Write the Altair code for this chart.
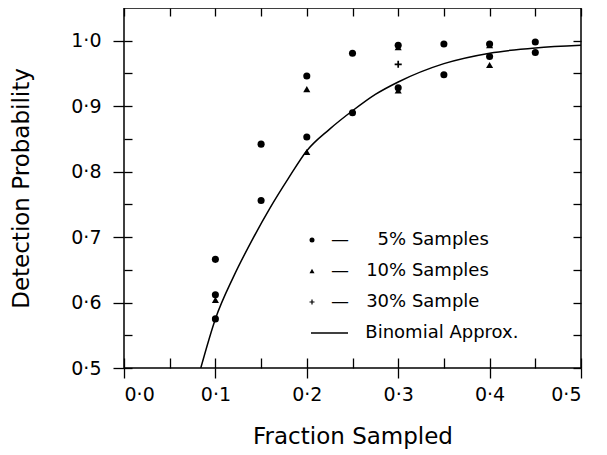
import altair as alt
import pandas as pd

# 5% samples (dots)
frac_5 = [0.10, 0.10, 0.10, 0.15, 0.15, 0.20, 0.20, 0.25, 0.25, 0.30, 0.30,
          0.35, 0.35, 0.40, 0.40, 0.45, 0.45]
det_5 = [0.666, 0.612, 0.575, 0.842, 0.756, 0.946, 0.853, 0.981, 0.890, 0.993,
         0.928, 0.995, 0.948, 0.995, 0.976, 0.998, 0.982]
# 10% samples (triangles)
frac_10 = [0.10, 0.20, 0.20, 0.30, 0.30, 0.40, 0.40]
det_10 = [0.604, 0.926, 0.830, 0.990, 0.924, 0.993, 0.963]
# 30% sample (plus)
frac_30 = [0.30]
det_30 = [0.964]
# Binomial approximation curve
curve_x = [0.084, 0.10, 0.12, 0.14, 0.16, 0.18, 0.20, 0.225, 0.25, 0.275,
           0.30, 0.35, 0.40, 0.45, 0.50]
curve_y = [0.500, 0.575, 0.640, 0.695, 0.745, 0.790, 0.832, 0.865, 0.893,
           0.918, 0.937, 0.965, 0.981, 0.989, 0.993]

series = ["5% Samples", "10% Samples", "30% Sample", "Binomial Approx."]
x_major = [0.0, 0.1, 0.2, 0.3, 0.4, 0.5]
x_all = [0.0, 0.05, 0.1, 0.15, 0.2, 0.25, 0.3, 0.35, 0.4, 0.45, 0.5]
y_major = [0.5, 0.6, 0.7, 0.8, 0.9, 1.0]
y_all = [0.5, 0.55, 0.6, 0.65, 0.7, 0.75, 0.8, 0.85, 0.9, 0.95, 1.0]

pts = pd.DataFrame({
    "frac": frac_5 + frac_10 + frac_30,
    "det": det_5 + det_10 + det_30,
    "series": [series[0]] * len(frac_5) + [series[1]] * len(frac_10) + [series[2]] * len(frac_30),
})
curve = pd.DataFrame({"frac": curve_x, "det": curve_y})

FONT = "DejaVu Sans"
xs = alt.Scale(domain=[0, 0.5], nice=False, zero=False)
ys = alt.Scale(domain=[0.5, 1.05], nice=False, zero=False)
dot_label = "replace(datum.label, '.', '·')"

# main axes: outward ticks + labels + titles
x_main = alt.Axis(orient="bottom", values=x_major, tickSize=10, labelPadding=7,
                  format=".1f", labelExpr=dot_label, title="Fraction Sampled",
                  titlePadding=21, domain=False, grid=False)
y_main = alt.Axis(orient="left", values=y_major, tickSize=11, labelPadding=12,
                  format=".1f", labelExpr=dot_label, title="Detection Probability",
                  titlePadding=37, domain=False, grid=False)

line = alt.Chart(curve).mark_line(color="black", strokeWidth=1.5, interpolate="monotone", clip=True).encode(
    x=alt.X("frac:Q", scale=xs, axis=x_main),
    y=alt.Y("det:Q", scale=ys, axis=y_main),
)

# inner ticks, bottom & left
x_in = alt.Axis(orient="bottom", values=x_all, tickSize=10, offset=-10, labels=False,
                title=None, domain=False, grid=False)
y_in = alt.Axis(orient="left", values=y_all, tickSize=8, offset=-8, labels=False,
                title=None, domain=False, grid=False)

label_expr = ("datum.label == 'Binomial Approx.' ? '\u200b\u2007\u2007\u00a0\u00a0' + datum.label : "
              "(datum.label == '5% Samples' ? '—\u00a0\u00a0\u00a0\u2007' + datum.label : "
              "'—\u00a0\u00a0\u00a0' + datum.label)")

# filled outline shapes so they also draw in the legend
PLUS = "M-1,-0.24H1V0.24H-1Z M-0.24,-1H0.24V1H-0.24Z"
DASH = "M-0.4,-0.28H14.4V0.28H-0.4Z"

points = alt.Chart(pts).mark_point(filled=True, color="black", size=50, opacity=1).encode(
    x=alt.X("frac:Q", scale=xs, axis=x_in),
    y=alt.Y("det:Q", scale=ys, axis=y_in),
    shape=alt.Shape("series:N", scale=alt.Scale(
        domain=series,
        range=["circle", "triangle-up", PLUS, DASH]),
        legend=alt.Legend(orient="none", legendX=179, legendY=223, title=None,
                          symbolSize=25, symbolFillColor="black", symbolOpacity=1,
                          labelFont=FONT, labelFontSize=18,
                          labelColor="black", labelOffset=10, rowPadding=13, padding=0,
                          labelExpr=label_expr, labelLimit=400)),
)

# inner ticks, top & right
x_top = alt.Axis(orient="top", values=x_all, tickSize=8, offset=-8, labels=False,
                 title=None, domain=False, grid=False)
y_right = alt.Axis(orient="right", values=y_all, tickSize=8, offset=-8, labels=False,
                   title=None, domain=False, grid=False)
ghost = alt.Chart(curve).mark_line(opacity=0).encode(
    x=alt.X("frac:Q", scale=xs, axis=x_top),
    y=alt.Y("det:Q", scale=ys, axis=y_right),
)

chart = alt.layer(line, points, ghost).resolve_axis(
    x="independent", y="independent"
).properties(
    width=457, height=360, autosize="none",
    padding={"left": 116, "top": 0, "right": 10, "bottom": 87},
).configure_view(
    stroke="black", strokeWidth=1.5
).configure_axis(
    labelFont=FONT, titleFont=FONT, labelFontSize=19, titleFontSize=23,
    labelColor="black", titleColor="black", tickColor="black", tickWidth=1.3,
    titleFontWeight="normal",
)

chart.save("out.html", embed_options={"renderer": "svg", "actions": False})
